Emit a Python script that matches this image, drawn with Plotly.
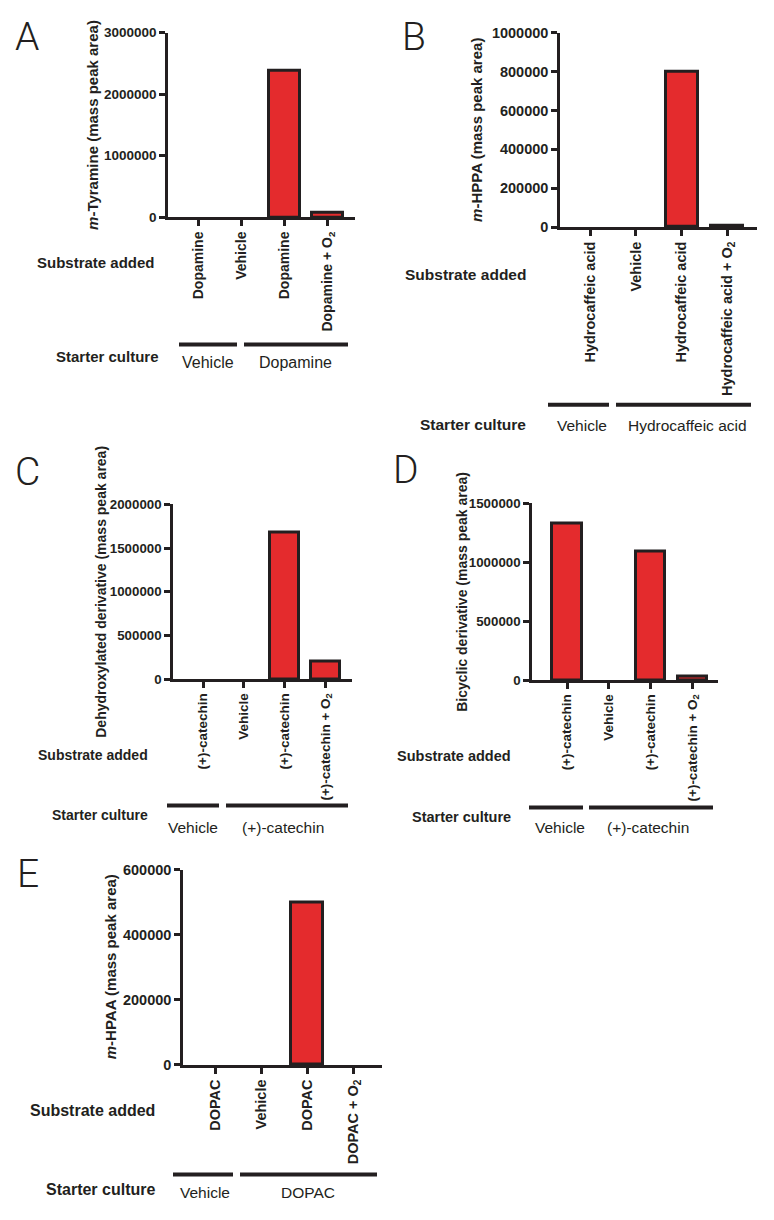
import plotly.graph_objects as go

W, H = 774, 1220
RED = "#E42B2D"
INK = "#231F20"
FONT = "Liberation Sans, Arial, sans-serif"

# ---------------- data ----------------
positions = [0, 1, 2, 3]

a_labels = ["Dopamine", "Vehicle", "Dopamine", "Dopamine + O<sub>2</sub>"]
a_values = [0, 0, 2380000, 80000]
a_yticks = [0, 1000000, 2000000, 3000000]
a_groups = ["Vehicle", "Dopamine"]
a_title = "<i>m</i>-Tyramine (mass peak area)"

b_labels = ["Hydrocaffeic acid", "Vehicle", "Hydrocaffeic acid", "Hydrocaffeic acid + O<sub>2</sub>"]
b_values = [0, 0, 798000, 5000]
b_yticks = [0, 200000, 400000, 600000, 800000, 1000000]
b_groups = ["Vehicle", "Hydrocaffeic acid"]
b_title = "<i>m</i>-HPPA (mass peak area)"

c_labels = ["(+)-catechin", "Vehicle", "(+)-catechin", "(+)-catechin + O<sub>2</sub>"]
c_values = [0, 0, 1680000, 200000]
c_yticks = [0, 500000, 1000000, 1500000, 2000000]
c_groups = ["Vehicle", "(+)-catechin"]
c_title = "Dehydroxylated derivative (mass peak area)"

d_labels = ["(+)-catechin", "Vehicle", "(+)-catechin", "(+)-catechin + O<sub>2</sub>"]
d_values = [1330000, 0, 1090000, 35000]
d_yticks = [0, 500000, 1000000, 1500000]
d_groups = ["Vehicle", "(+)-catechin"]
d_title = "Bicyclic derivative (mass peak area)"

e_labels = ["DOPAC", "Vehicle", "DOPAC", "DOPAC + O<sub>2</sub>"]
e_values = [0, 0, 500000, 0]
e_yticks = [0, 200000, 400000, 600000]
e_groups = ["Vehicle", "DOPAC"]
e_title = "<i>m</i>-HPAA (mass peak area)"

letters = ["A", "B", "C", "D", "E"]


def px(x):
    return x / W


def py(y):
    return 1 - y / H


# ---------------- layout geometry (pixels) ----------------
panels = [
    dict(labels=a_labels, values=a_values, yticks=a_yticks, groups=a_groups, title=a_title,
         x0=168, x1=355, ytop=25, ybot=212, xr=[-0.70, 3.65], bw=0.72, tfs=13.5, cfs=14,
         ttl_x=93, ttl_fs=15, sub=(157, 258, 15), sc=(161, 353, 15), line_y=341,
         lines=[(179, 237), (244, 348)], glab=[(208, 359), (295, 359)], gfs=16,
         letter=(13, 29)),
    dict(labels=b_labels, values=b_values, yticks=b_yticks, groups=b_groups, title=b_title,
         x0=560, x1=757, ytop=25, ybot=222, xr=[-0.66, 3.65], bw=0.70, tfs=14.5, cfs=14.5,
         ttl_x=477, ttl_fs=15, sub=(528, 270, 15.5), sc=(528, 422, 15.5), line_y=402,
         lines=[(548, 609), (616, 751)], glab=[(582, 423), (687, 423)], gfs=15.5,
         letter=(400, 29)),
    dict(labels=c_labels, values=c_values, yticks=c_yticks, groups=c_groups, title=c_title,
         x0=173, x1=352, ytop=503, ybot=680, xr=[-0.74, 3.66], bw=0.71, tfs=13.3, cfs=13.5,
         ttl_x=101, ttl_fs=14, sub=(150, 757, 14), sc=(150, 818, 14), line_y=808,
         lines=[(167, 219), (226, 348)], glab=[(193, 830), (283, 830)], gfs=15.5,
         letter=(13, 470)),
    dict(labels=d_labels, values=d_values, yticks=d_yticks, groups=d_groups, title=d_title,
         x0=532, x1=718, ytop=502, ybot=681, xr=[-0.84, 3.62], bw=0.70, tfs=13.3, cfs=13.5,
         ttl_x=462, ttl_fs=14, sub=(513, 758, 14.5), sc=(513, 820, 14.5), line_y=810,
         lines=[(529, 583), (589, 713)], glab=[(560, 830), (648, 830)], gfs=15.5,
         letter=(391, 468)),
    dict(labels=e_labels, values=e_values, yticks=e_yticks, groups=e_groups, title=e_title,
         x0=183, x1=382, ytop=873, ybot=1071, xr=[-0.70, 3.63], bw=0.70, tfs=14.5, cfs=14.5,
         ttl_x=110, ttl_fs=15, sub=(157, 1117, 16), sc=(157, 1197, 16), line_y=1182,
         lines=[(173, 233), (240, 377)], glab=[(205, 1200), (308, 1200)], gfs=15.5,
         letter=(15, 878)),
]

fig = go.Figure()
annotations = []
shapes = []
layout = {}

for i, p in enumerate(panels, start=1):
    xa = "x" if i == 1 else f"x{i}"
    ya = "y" if i == 1 else f"y{i}"
    outline = [3 if v > 0 else 0 for v in p["values"]]
    fig.add_trace(go.Bar(
        x=positions, y=p["values"], width=p["bw"], xaxis=xa, yaxis=ya,
        marker=dict(color=RED, line=dict(color=INK, width=outline)),
        showlegend=False, hoverinfo="skip",
    ))
    xname = "xaxis" if i == 1 else f"xaxis{i}"
    yname = "yaxis" if i == 1 else f"yaxis{i}"
    layout[xname] = dict(
        domain=[px(p["x0"]), px(p["x1"])], anchor=ya, range=p["xr"],
        tickmode="array", tickvals=positions, ticktext=p["labels"], tickangle=-90,
        showline=True, linewidth=2.5, linecolor=INK, ticks="outside", ticklen=6,
        tickwidth=2.5, tickcolor=INK, showgrid=False, zeroline=False, fixedrange=True,
        tickfont=dict(family=FONT, size=p["cfs"], color=INK, weight="bold"),
    )
    layout[yname] = dict(
        domain=[py(p["ybot"]), py(p["ytop"])], anchor=xa,
        range=[0, p["yticks"][-1]], tickmode="array", tickvals=p["yticks"],
        ticktext=[str(v) for v in p["yticks"]],
        showline=True, linewidth=2.5, linecolor=INK, ticks="outside", ticklen=6,
        tickwidth=2.5, tickcolor=INK, showgrid=False, zeroline=False, fixedrange=True,
        tickfont=dict(family=FONT, size=p["tfs"], color=INK, weight="bold"),
    )
    # y-axis title
    annotations.append(dict(
        text=p["title"], xref="paper", yref="paper", x=px(p["ttl_x"]),
        y=py((p["ytop"] + p["ybot"]) / 2), xanchor="center", yanchor="middle",
        textangle=-90, showarrow=False,
        font=dict(family=FONT, size=p["ttl_fs"], color=INK, weight="bold"),
    ))
    # row labels
    sx, sy, sfs = p["sub"]
    annotations.append(dict(
        text="Substrate added", xref="paper", yref="paper", x=px(sx), y=py(sy),
        xanchor="right", yanchor="middle", showarrow=False,
        font=dict(family=FONT, size=sfs, color=INK, weight="bold"),
    ))
    cx, cy, cfs = p["sc"]
    annotations.append(dict(
        text="Starter culture", xref="paper", yref="paper", x=px(cx), y=py(cy),
        xanchor="right", yanchor="middle", showarrow=False,
        font=dict(family=FONT, size=cfs, color=INK, weight="bold"),
    ))
    # group lines and labels
    for (l0, l1) in p["lines"]:
        shapes.append(dict(
            type="line", xref="paper", yref="paper", x0=px(l0), x1=px(l1),
            y0=py(p["line_y"]), y1=py(p["line_y"]),
            line=dict(color=INK, width=4),
        ))
    for g, (gx, gy) in zip(p["groups"], p["glab"]):
        annotations.append(dict(
            text=g, xref="paper", yref="paper", x=px(gx), y=py(gy),
            xanchor="center", yanchor="middle", showarrow=False,
            font=dict(family=FONT, size=p["gfs"], color=INK),
        ))
    # panel letter
    lx, ly = p["letter"]
    annotations.append(dict(
        text=letters[i - 1], xref="paper", yref="paper", x=px(lx), y=py(ly),
        xanchor="left", yanchor="middle", showarrow=False,
        font=dict(family="Roboto, Liberation Sans, sans-serif", size=39, color=INK, weight=300),
    ))

fig.update_layout(
    width=W, height=H, margin=dict(l=0, r=0, t=0, b=0),
    paper_bgcolor="white", plot_bgcolor="white",
    annotations=annotations, shapes=shapes, bargap=0, **layout,
)

fig.write_html(
    "out.html",
    config={"displayModeBar": False},
    post_script="document.body.style.margin='0';document.body.style.padding='0';",
)
